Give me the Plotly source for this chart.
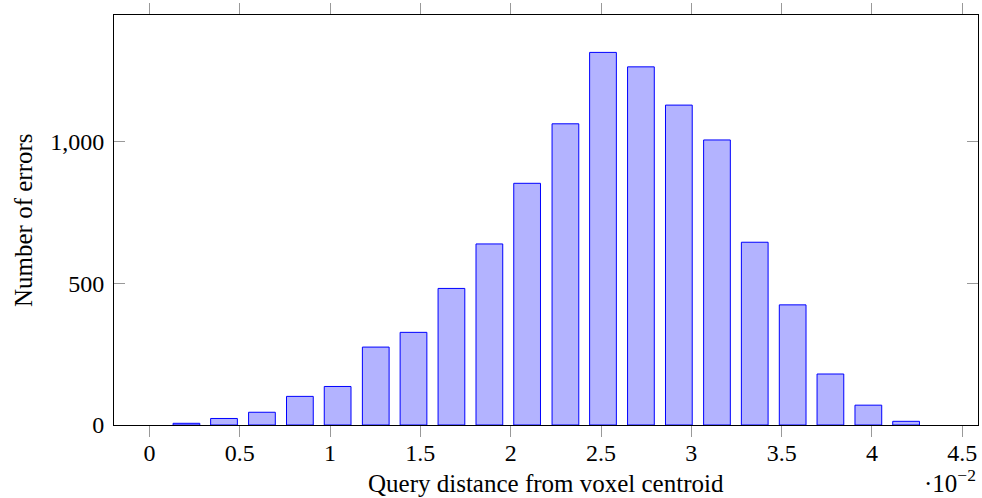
import plotly.graph_objects as go

# Bar centres (x in units of 10^-2) and counts
bin_centres = [0.205, 0.413, 0.623, 0.833, 1.042, 1.253, 1.462, 1.672, 1.882, 2.091,
               2.303, 2.511, 2.721, 2.931, 3.142, 3.351, 3.561, 3.770, 3.980, 4.189]
error_counts = [6, 23, 45, 101, 136, 275, 327, 482, 639, 853,
                1063, 1315, 1264, 1129, 1006, 645, 424, 180, 70, 13]

x_tick_vals = [0, 0.5, 1, 1.5, 2, 2.5, 3, 3.5, 4, 4.5]
x_tick_text = ["0", "0.5", "1", "1.5", "2", "2.5", "3", "3.5", "4", "4.5"]
y_tick_vals = [0, 500, 1000]
y_tick_text = ["0", "500", "1,000"]

FONT = "Liberation Serif"

fig = go.Figure()
fig.add_trace(go.Bar(
    x=bin_centres, y=error_counts, width=0.148,
    marker=dict(color="rgb(179,179,255)", line=dict(color="blue", width=1)),
))

fig.update_layout(
    width=982, height=498,
    margin=dict(l=114, r=4, t=15, b=73),
    paper_bgcolor="white", plot_bgcolor="white",
    showlegend=False,
    font=dict(family=FONT, size=24, color="black"),
    xaxis=dict(
        range=[-0.196, 4.587], tickvals=x_tick_vals, ticktext=x_tick_text,
        ticks="outside", ticklen=11, tickcolor="#999999", tickwidth=1,
        showline=True, linecolor="black", linewidth=1, mirror="ticks",
        showgrid=False, zeroline=False, ticklabelstandoff=-5,
        tickfont=dict(family=FONT, size=24),
    ),
    yaxis=dict(
        range=[0, 1447], tickvals=y_tick_vals, ticktext=y_tick_text,
        ticks="inside", ticklen=11, tickcolor="#999999", tickwidth=1,
        showline=True, linecolor="black", linewidth=1, mirror="ticks",
        showgrid=False, zeroline=False, ticklabelstandoff=4,
        tickfont=dict(family=FONT, size=24),
    ),
    annotations=[
        dict(text="Query distance from voxel centroid", xref="paper", yref="paper",
             x=0.5, y=(425 - 484) / 410, xanchor="center", yanchor="middle",
             showarrow=False, font=dict(family=FONT, size=25)),
        dict(text="·10<sup>−2</sup>", xref="paper", yref="paper",
             x=1.0, y=(425 - 481) / 410, xanchor="right", yanchor="middle",
             showarrow=False, font=dict(family=FONT, size=25)),
        dict(text="Number of errors", xref="paper", yref="paper",
             x=(23 - 114) / 864, y=0.5, xanchor="center", yanchor="middle",
             textangle=-90, showarrow=False, font=dict(family=FONT, size=25)),
    ],
)

fig.write_html("out.html")
